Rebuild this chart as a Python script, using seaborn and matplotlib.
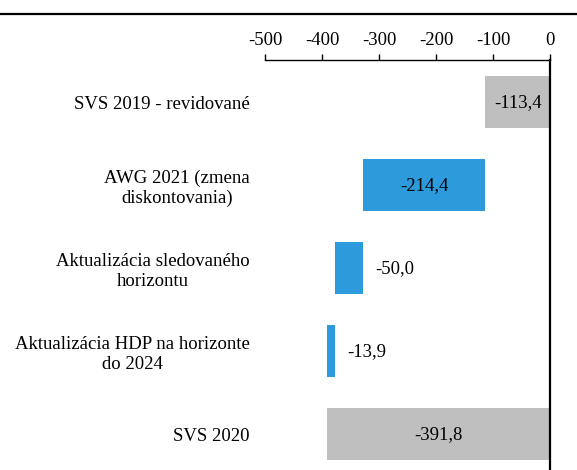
import pandas as pd
import matplotlib.pyplot as plt
import seaborn as sns
from matplotlib.lines import Line2D

# Dáta pre waterfall graf
categories = ["SVS 2019 - revidované",
              "AWG 2021 (zmena\ndiskontovania)",
              "Aktualizácia sledovaného\nhorizontu",
              "Aktualizácia HDP na horizonte\ndo 2024",
              "SVS 2020"]
values = [-113.4, -214.4, -50.0, -13.9, -391.8]
is_total = [True, False, False, False, True]
tick_values = [-500, -400, -300, -200, -100, 0]

gray = '#BFBFBF'
blue = '#2D9ADB'
fs = 13.5

# Začiatok a koniec každého stĺpca
starts, ends = [], []
running = 0.0
for v, tot in zip(values, is_total):
    if tot:
        starts.append(0.0)
        ends.append(v)
        running = v
    else:
        starts.append(running)
        running = running + v
        ends.append(running)

df = pd.DataFrame({'kategoria': categories, 'hodnota': values,
                   'start': starts, 'koniec': ends})
colors = [gray if t else blue for t in is_total]

sns.set_theme(style="white")
plt.rcParams['font.family'] = ['Liberation Serif', 'DejaVu Serif']

fig = plt.figure(figsize=(5.77, 4.70), dpi=100)
ax = fig.add_axes([265 / 577, 0.0, 285 / 577, 410 / 470])

# koniec stĺpca farebne, začiatok prekrytý bielou
sns.barplot(data=df, x='koniec', y='kategoria', hue='kategoria', palette=colors,
            orient='h', width=0.63, linewidth=0, saturation=1, legend=False, ax=ax)
sns.barplot(data=df, x='start', y='kategoria', color='white',
            orient='h', width=0.63, linewidth=0, saturation=1, ax=ax)

ax.set_xlim(-500, 0)
ax.set_ylim(4.43, -0.51)
ax.set_xlabel('')
ax.set_ylabel('')

ax.xaxis.tick_top()
ax.set_xticks(tick_values)
ax.set_xticklabels([str(t) for t in tick_values])
ax.tick_params(axis='x', direction='out', length=4, width=1, color='black',
               labelsize=fs, pad=4, labelcolor='black')
ax.tick_params(axis='y', length=0, labelsize=fs, pad=11, labelcolor='black')
for lab in ax.get_yticklabels():
    lab.set_multialignment('center')

for side in ['left', 'bottom']:
    ax.spines[side].set_visible(False)
ax.spines['top'].set_color('black')
ax.spines['top'].set_linewidth(1.0)
ax.spines['right'].set_color('black')
ax.spines['right'].set_linewidth(1.6)

# popisky hodnôt
for i, row in df.iterrows():
    txt = f"{row['hodnota']:.1f}".replace('.', ',')
    if abs(row['hodnota']) > 100:
        ax.text((row['start'] + row['koniec']) / 2, i, txt, ha='center',
                va='center', fontsize=fs, color='black')
    else:
        ax.annotate(txt, xy=(row['start'], i), xytext=(9, 0),
                    textcoords='offset points', ha='left', va='center',
                    fontsize=fs, color='black')

# čiara hore cez celú šírku
fig.add_artist(Line2D([0, 1], [1 - 13.5 / 470, 1 - 13.5 / 470],
                      transform=fig.transFigure, color='black', linewidth=1.6))

fig.savefig('out.png', dpi=100)
